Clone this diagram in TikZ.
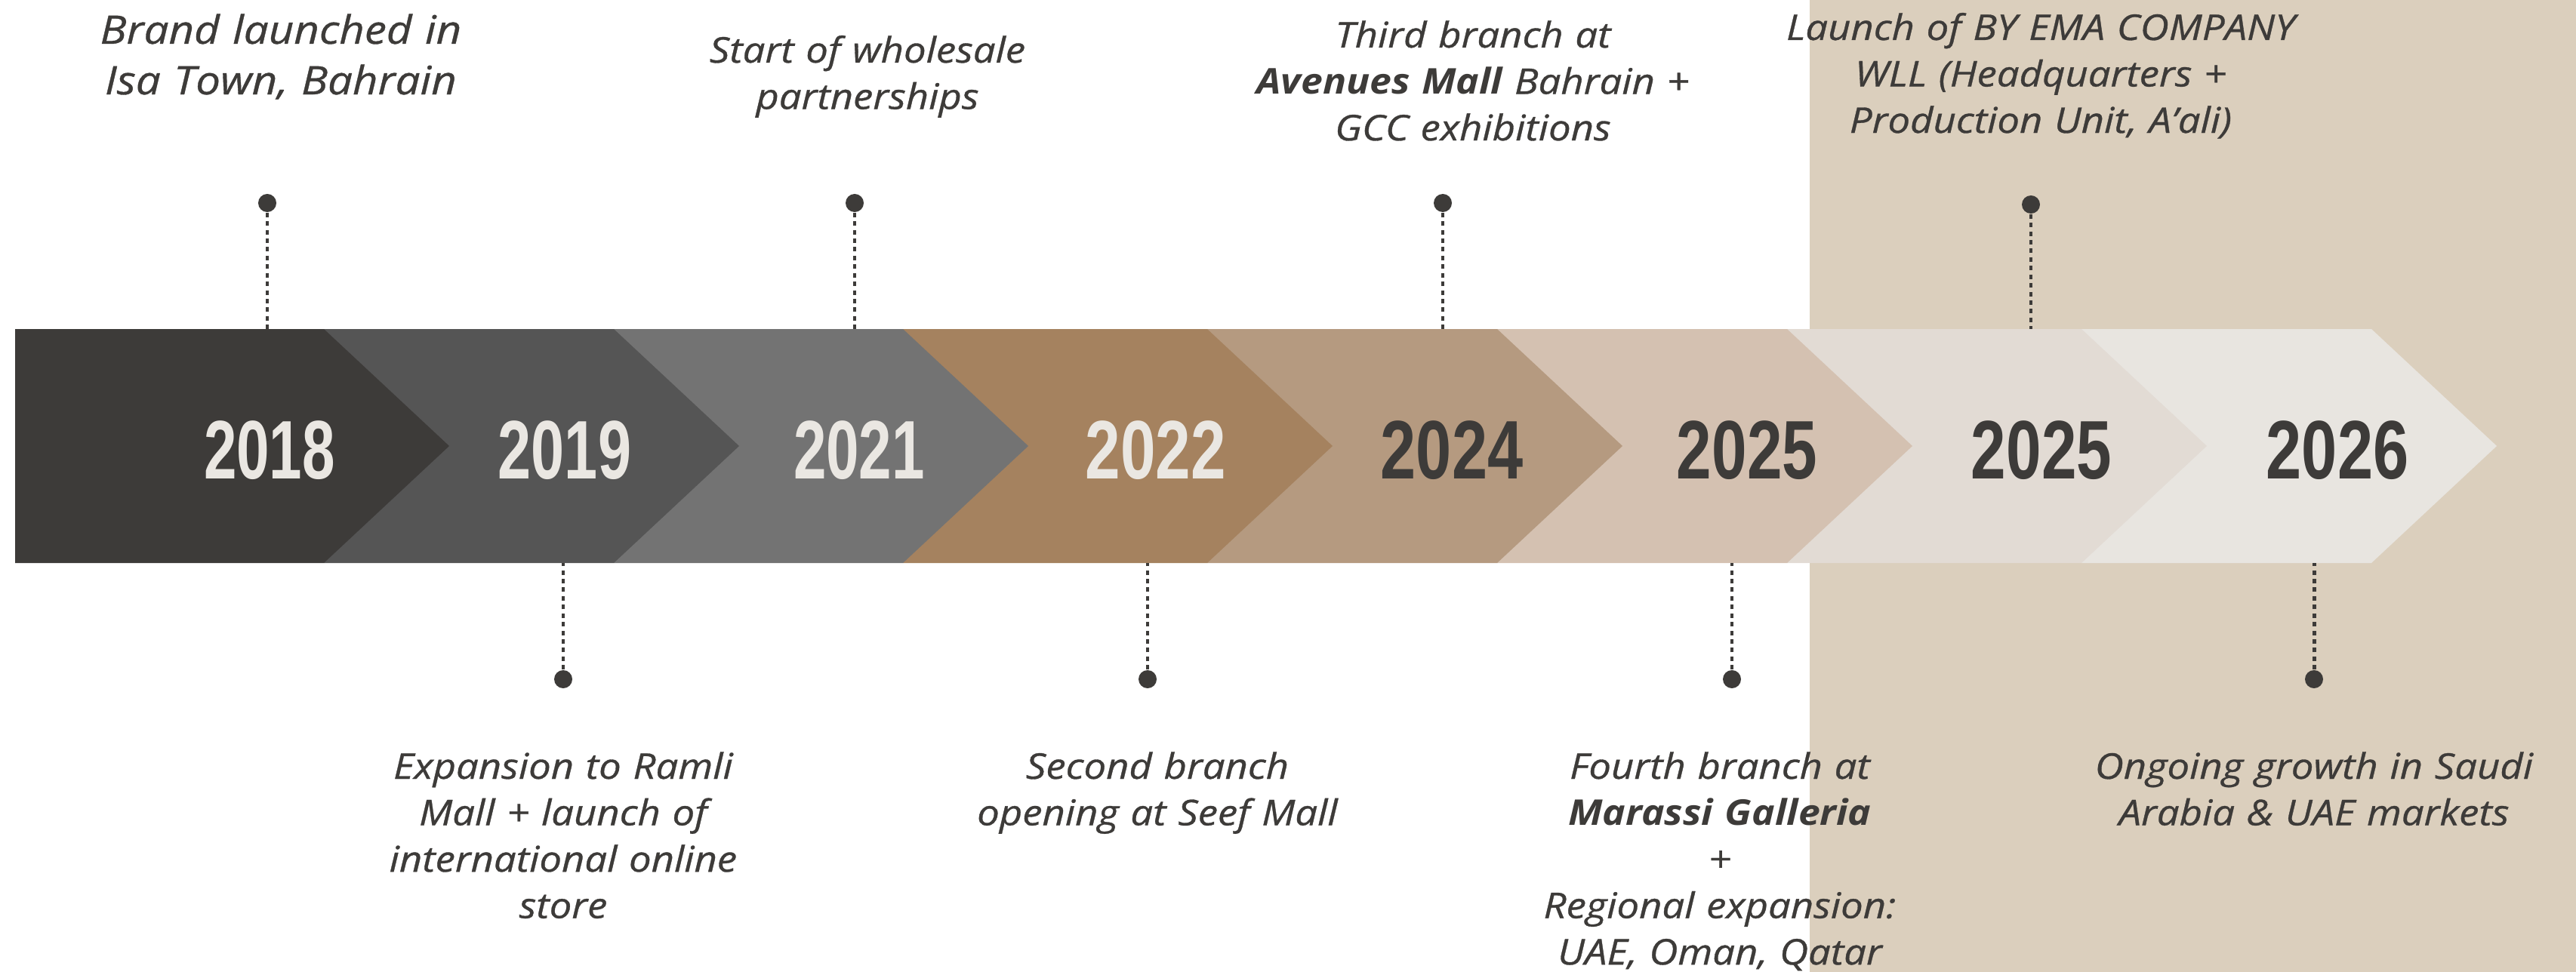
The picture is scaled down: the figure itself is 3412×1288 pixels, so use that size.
\documentclass[tikz,border=0pt]{standalone}
\usepackage{fontspec}
\setmainfont{Open Sans}[
  ItalicFeatures={FakeStretch=1.12, FakeBold=0.7},
  BoldItalicFeatures={FakeStretch=1.10}]
\newfontfamily\yearfont{Liberation Sans}
\definecolor{ink}{HTML}{3D3B39}
\definecolor{light}{HTML}{EAE7E2}
\definecolor{panel}{HTML}{DBCFBD}
\definecolor{c1}{HTML}{3D3B39}
\definecolor{c2}{HTML}{555555}
\definecolor{c3}{HTML}{737373}
\definecolor{c4}{HTML}{A5825F}
\definecolor{c5}{HTML}{B59A80}
\definecolor{c6}{HTML}{D4C1B1}
\definecolor{c7}{HTML}{E2DBD4}
\definecolor{c8}{HTML}{E8E5E0}
\tikzset{
  yr/.style={anchor=base, inner sep=0pt, font=\yearfont\bfseries\fontsize{31.3}{31.3}\selectfont},
  dot/.style={circle, fill=ink, inner sep=0pt, minimum size=0.24cm},
  conn/.style={draw=ink, line width=1.4pt, dash pattern=on 1.7pt off 1.55pt},
  txt/.style={anchor=base, inner sep=0pt, text width=9cm, align=center, text=ink},
  big/.style={font=\fontsize{14.8}{19.06}\selectfont\itshape},
  small/.style={font=\fontsize{13.37}{17.5}\selectfont\itshape},
}
\begin{document}
\begin{tikzpicture}[x=0.01cm,y=-0.01cm]
\useasboundingbox (0,0) rectangle (3412,1288);
\fill[white] (0,0) rectangle (3412,1288);
\fill[panel] (2397,0) rectangle (3412,1288);
% chevrons, drawn right to left
\fill[c8] (2757,436) -- (3141,436) -- (3307,591) -- (3141,746) -- (2757,746) -- cycle;
\fill[c7] (2367,436) -- (2757,436) -- (2923,591) -- (2757,746) -- (2367,746) -- cycle;
\fill[c6] (1983,436) -- (2367,436) -- (2533,591) -- (2367,746) -- (1983,746) -- cycle;
\fill[c5] (1599,436) -- (1983,436) -- (2149,591) -- (1983,746) -- (1599,746) -- cycle;
\fill[c4] (1196,436) -- (1599,436) -- (1765,591) -- (1599,746) -- (1196,746) -- cycle;
\fill[c3] (813,436) -- (1196,436) -- (1362,591) -- (1196,746) -- (813,746) -- cycle;
\fill[c2] (429,436) -- (813,436) -- (979,591) -- (813,746) -- (429,746) -- cycle;
\fill[c1] (20,436) -- (429,436) -- (595,591) -- (429,746) -- (20,746) -- cycle;
% years
\node[yr, text=light] (y1) at (357,634) {\scalebox{0.71}[1]{2018}};
\node[yr, text=light] (y2) at (748,634) {\scalebox{0.72}[1]{2019}};
\node[yr, text=light] (y3) at (1138,634) {\scalebox{0.71}[1]{2021}};
\node[yr, text=light] (y4) at (1531,634) {\scalebox{0.76}[1]{2022}};
\node[yr, text=ink] (y5) at (1923,634) {\scalebox{0.77}[1]{2024}};
\node[yr, text=ink] (y6) at (2314,634) {\scalebox{0.76}[1]{2025}};
\node[yr, text=ink] (y7) at (2704,634) {\scalebox{0.76}[1]{2025}};
\node[yr, text=ink] (y8) at (3096,634) {\scalebox{0.77}[1]{2026}};
% dots and band edge points
\node[dot] (d1) at (354,269) {};
\node[dot] (d3) at (1132,269) {};
\node[dot] (d5) at (1911,269) {};
\node[dot] (d7) at (2690,271) {};
\node[dot] (d2) at (746,900) {};
\node[dot] (d4) at (1520,900) {};
\node[dot] (d6) at (2294,900) {};
\node[dot] (d8) at (3065,900) {};
\coordinate (e1) at (354,436);
\coordinate (e3) at (1132,436);
\coordinate (e5) at (1911,436);
\coordinate (e7) at (2690,436);
\coordinate (e2) at (746,746);
\coordinate (e4) at (1520,746);
\coordinate (e6) at (2294,746);
\coordinate (e8) at (3065,746);
\draw[conn] (d1) -- (e1);
\draw[conn] (d3) -- (e3);
\draw[conn] (d5) -- (e5);
\draw[conn] (d7) -- (e7);
\draw[conn] (d2) -- (e2);
\draw[conn] (d4) -- (e4);
\draw[conn] (d6) -- (e6);
\draw[conn] (d8) -- (e8);
% texts
\node[txt, big] (t1) at (372,58) {Brand launched in\\Isa Town, Bahrain};
\node[txt, small] (t3) at (1149,83) {Start of wholesale\\partnerships};
\node[txt, small] (t5) at (1951,63) {Third branch at\\\textbf{Avenues Mall} Bahrain +\\GCC exhibitions};
\node[txt, small] (t7) at (2703,53) {Launch of BY EMA COMPANY\\WLL (Headquarters +\\Production Unit, A’ali)};
\node[txt, small] (t2) at (746,1032) {Expansion to Ramli\\Mall + launch of\\international online\\store};
\node[txt, small] (t4) at (1533,1032) {Second branch\\opening at Seef Mall};
\node[txt, small] (t6) at (2278,1032) {Fourth branch at\\\textbf{Marassi Galleria}\\+\\Regional expansion:\\UAE, Oman, Qatar};
\node[txt, small] (t8) at (3065,1032) {Ongoing growth in Saudi\\Arabia \& UAE markets};
\end{tikzpicture}
\end{document}
